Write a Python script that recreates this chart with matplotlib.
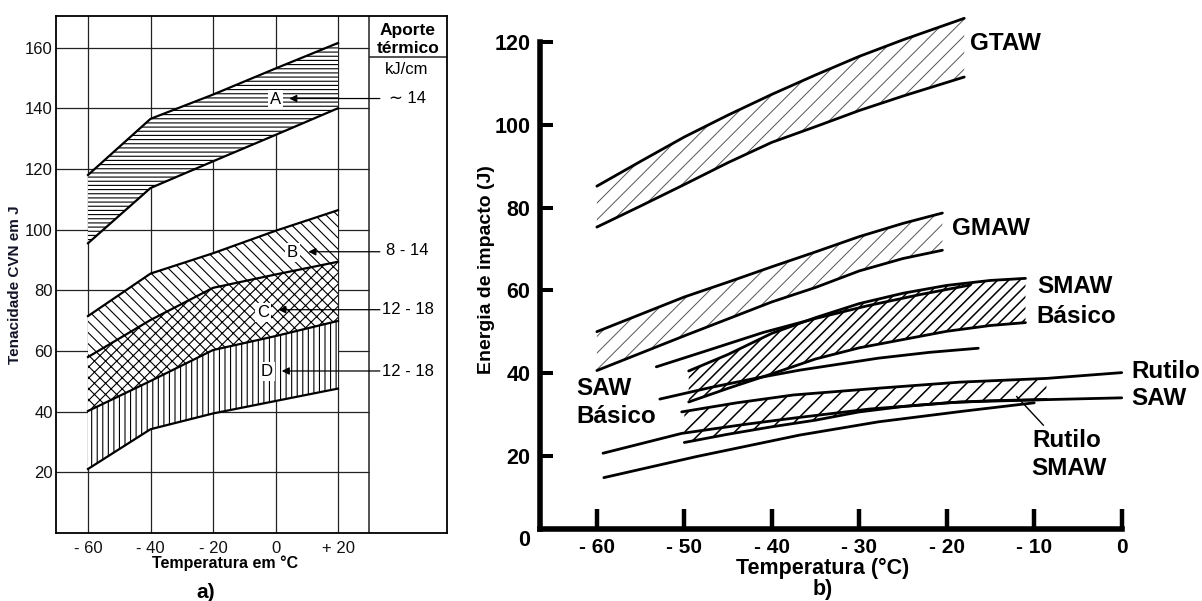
import matplotlib
matplotlib.use('Agg')
import matplotlib.pyplot as plt

plt.rcParams['font.family'] = ['Liberation Sans', 'DejaVu Sans']
plt.rcParams['hatch.linewidth'] = 0.8

# ---------------- data: panel a) ----------------
temp_a = [-60, -40, -20, 0, 20]
a_upper = [118.0, 136.5, 144.5, 153.1, 161.5]
a_lower = [95.5, 113.7, 122.5, 131.2, 140.0]
b_upper = [71.5, 85.5, 92.2, 99.6, 106.4]
c_upper = [58.0, 70.2, 80.8, 85.2, 89.4]
d_upper = [40.2, 50.1, 60.3, 64.9, 69.9]
d_lower = [21.1, 34.2, 39.4, 43.5, 47.6]
xticks_a = [-60, -40, -20, 0, 20]
xticklabels_a = ['- 60', '- 40', '- 20', '0', '+ 20']
yticks_a = [20, 40, 60, 80, 100, 120, 140, 160]
band_letters = ['A', 'B', 'C', 'D']
heat_inputs = ['\u223c 14', '8 - 14', '12 - 18', '12 - 18']

# ---------------- data: panel b) ----------------
t_gtaw = [-60, -55, -50, -45, -40, -35, -30, -25, -18]
gtaw_upper = [85.2, 91.2, 97.1, 102.4, 107.4, 112.1, 116.6, 120.6, 125.8]
gtaw_lower = [75.3, 80.4, 85.6, 90.9, 95.8, 99.6, 103.5, 107.0, 111.6]

t_gmaw = [-60, -55, -50, -45, -40, -35, -30, -25, -20.5]
gmaw_upper = [50.0, 54.2, 58.4, 62.0, 65.7, 69.3, 73.0, 76.2, 78.7]
gmaw_lower = [40.6, 44.8, 49.0, 53.1, 57.2, 60.7, 64.7, 67.7, 69.7]

t_smaw_b = [-49.5, -45, -40, -35, -30, -25, -20, -15, -11]
smaw_b_upper = [40.5, 44.5, 49.6, 53.4, 56.8, 59.3, 61.2, 62.4, 62.9]
smaw_b_lower = [33.0, 36.3, 39.8, 43.4, 46.1, 48.1, 50.1, 51.5, 52.2]

t_saw_b_up = [-53.2, -47, -41, -35, -29, -23, -17.3]
saw_b_upper = [41.5, 45.7, 49.8, 53.2, 56.3, 59.0, 61.3]
t_saw_b_lo = [-52.8, -47, -41.7, -36.8, -27.8, -22, -16.4]
saw_b_lower = [33.7, 36.5, 38.8, 40.7, 43.6, 45.0, 46.0]

t_rsaw_up = [-50.3, -44, -37.5, -28, -18.5, -8.6, 0]
rsaw_upper = [30.6, 32.8, 34.7, 36.3, 37.8, 38.7, 40.1]
t_rsaw_lo = [-59.3, -50.3, -43, -37.5, -28.8, -18.5, -8, 0]
rsaw_lower = [20.6, 25.4, 27.6, 29.1, 31.3, 33.0, 33.6, 34.0]
t_low = [-59.2, -48.6, -36.8, -27.8, -18, -10]
low_line = [14.7, 19.8, 25.0, 28.2, 30.8, 32.8]

t_rsmaw = [-50, -45, -40, -35, -30, -25, -20, -15, -8.6]
rsmaw_upper = [30.7, 32.5, 34.1, 35.1, 36.0, 36.8, 37.5, 38.0, 38.7]
rsmaw_lower = [23.2, 25.2, 27.0, 28.6, 30.6, 31.9, 32.8, 33.3, 33.6]

xticks_b = [-60, -50, -40, -30, -20, -10, 0]
xticklabels_b = ['- 60', '- 50', '- 40', '- 30', '- 20', '- 10', '0']
yticks_b = [0, 20, 40, 60, 80, 100, 120]


def set_hlw(coll, w):
    if hasattr(coll, 'set_hatch_linewidth'):
        coll.set_hatch_linewidth(w)


fig = plt.figure(figsize=(12.02, 6.01), dpi=100)

# =============== panel a) ===============
W, H = 1202.0, 601.0
axA = fig.add_axes([56 / W, 1 - 533 / H, (447 - 56) / W, 517 / H])
axA.set_xlim(-70.24, 54.88)
axA.set_ylim(0, 170.4)
for s in axA.spines.values():
    s.set_linewidth(1.3)
axA.set_xticks(xticks_a, xticklabels_a)
axA.set_yticks(yticks_a, [str(v) for v in yticks_a])
axA.tick_params(axis='both', length=0, labelsize=12, colors='#111111')
axA.tick_params(axis='y', pad=2.4)
axA.tick_params(axis='x', pad=5.5)

# grid
for xv in xticks_a:
    axA.axvline(xv, color='#222222', lw=0.9, zorder=1)
axA.hlines(yticks_a, -70.24, 30, color='#222222', lw=0.9, zorder=1)
axA.axvline(30, color='#222222', lw=1.1, zorder=1)
axA.hlines([156.9], 30, 54.88, color='#222222', lw=1.1, zorder=1)

fills = [
    (a_lower, a_upper, '----'),
    (c_upper, b_upper, '\\\\\\'),
    (d_upper, c_upper, 'xxx'),
    (d_lower, d_upper, '|||'),
]
for lo, up, h in fills:
    pc = axA.fill_between(temp_a, lo, up, facecolor='white', edgecolor='black',
                          hatch=h, lw=0, zorder=2)
    set_hlw(pc, 0.8)
for series in (a_upper, a_lower, b_upper, c_upper, d_upper, d_lower):
    axA.plot(temp_a, series, color='black', lw=1.6, zorder=3)

# header of the heat-input column
axA.text(42.1, 165.6, 'Aporte', ha='center', va='center', fontsize=12.5,
         fontweight='bold')
axA.text(42.4, 159.7, 't\u00e9rmico', ha='center', va='center', fontsize=12.5,
         fontweight='bold')
axA.text(42.1, 152.7, 'kJ/cm', ha='center', va='center', fontsize=12)

letter_xy = [(0.0, 143.0), (5.4, 92.6), (-3.9, 72.8), (-2.8, 53.3)]
arrow_tip = [(4.4, 143.2), (10.5, 92.7), (0.9, 73.6), (2.0, 53.4)]
value_y = [143.3, 93.1, 73.8, 53.3]
for i in range(4):
    lx, ly = letter_xy[i]
    axA.text(lx, ly, band_letters[i], ha='center', va='center', fontsize=12,
             zorder=6, bbox=dict(boxstyle='square,pad=0.12', fc='white', ec='none'))
    axA.annotate('', xy=arrow_tip[i], xytext=(33.4, arrow_tip[i][1]),
                 arrowprops=dict(arrowstyle='-|>', color='black', lw=0.9,
                                 mutation_scale=11, shrinkA=0, shrinkB=0),
                 zorder=6)
    axA.text(42.3, value_y[i], heat_inputs[i], ha='center', va='center',
             fontsize=12, zorder=6)

fig.text(15 / W, 1 - 285 / H, 'Tenacidade CVN em J', rotation=90, ha='center',
         va='center', fontsize=11, fontweight='bold', color='#141428')
fig.text(225 / W, 1 - 563 / H, 'Temperatura em \u00b0C', ha='center', va='center',
         fontsize=11.5, fontweight='bold')
fig.text(206 / W, 1 - 592 / H, 'a)', ha='center', va='center', fontsize=15,
         fontweight='bold')

# =============== panel b) ===============
axB = fig.add_axes([540 / W, 1 - 538.4 / H, 581.7 / W, 496.1 / H])
axB.set_xlim(-66.5, 0)
axB.set_ylim(0, 120)
axB.spines['top'].set_visible(False)
axB.spines['right'].set_visible(False)
axB.spines['left'].set_linewidth(4)
axB.spines['left'].set_bounds(2.2, 120)
axB.spines['bottom'].set_linewidth(4)
axB.spines['bottom'].set_position(('data', 2.2))
axB.spines['bottom'].set_bounds(-66.5, 0)
axB.set_xticks(xticks_b, xticklabels_b, fontsize=15, fontweight='bold')
axB.set_yticks(yticks_b, [str(v) for v in yticks_b], fontsize=15.5,
               fontweight='bold')
axB.tick_params(axis='y', direction='in', length=9.4, width=2.9, pad=7)
axB.tick_params(axis='x', direction='in', length=14.4, width=3.2, pad=6.5)
axB.yaxis.get_major_ticks()[0].tick1line.set_visible(False)

# hatched bands
pc = axB.fill_between(t_gtaw, gtaw_lower, gtaw_upper, facecolor='none',
                      edgecolor='#555555', hatch='//', lw=0, clip_on=False)
set_hlw(pc, 0.7)
pc = axB.fill_between(t_gmaw, gmaw_lower, gmaw_upper, facecolor='none',
                      edgecolor='#555555', hatch='//', lw=0, clip_on=False)
set_hlw(pc, 0.7)
pc = axB.fill_between(t_smaw_b, smaw_b_lower, smaw_b_upper, facecolor='none',
                      edgecolor='black', hatch='///', lw=0, clip_on=False)
set_hlw(pc, 1.1)
pc = axB.fill_between(t_rsmaw, rsmaw_lower, rsmaw_upper, facecolor='none',
                      edgecolor='black', hatch='//', lw=0, clip_on=False)
set_hlw(pc, 1.1)

lines_b = [
    (t_gtaw, gtaw_upper), (t_gtaw, gtaw_lower),
    (t_gmaw, gmaw_upper), (t_gmaw, gmaw_lower),
    (t_smaw_b, smaw_b_upper), (t_smaw_b, smaw_b_lower),
    (t_saw_b_up, saw_b_upper), (t_saw_b_lo, saw_b_lower),
    (t_rsaw_up, rsaw_upper), (t_rsaw_lo, rsaw_lower),
    (t_low, low_line), (t_rsmaw, rsmaw_lower),
]
for tx, ey in lines_b:
    axB.plot(tx, ey, color='black', lw=2.0, clip_on=False, solid_capstyle='round')

# leader for Rutilo SMAW
axB.plot([-12.0, -8.96], [34.3, 27.4], color='black', lw=1.0, clip_on=False)

lab_kw = dict(fontsize=17.5, fontweight='bold', ha='left', va='center')
axB.text(-17.3, 119.8, 'GTAW', **lab_kw)
axB.text(-19.4, 75.0, 'GMAW', **lab_kw)
axB.text(-9.7, 60.9, 'SMAW', **lab_kw)
axB.text(-9.7, 53.6, 'B\u00e1sico', **lab_kw)
axB.text(1.14, 40.3, 'Rutilo', **lab_kw)
axB.text(1.14, 33.9, 'SAW', **lab_kw)
axB.text(-10.2, 23.8, 'Rutilo', **lab_kw)
axB.text(-10.3, 17.0, 'SMAW', **lab_kw)
axB.text(-62.3, 36.3, 'SAW', **lab_kw)
axB.text(-62.3, 29.4, 'B\u00e1sico', **lab_kw)

fig.text(487 / W, 1 - 270 / H, 'Energia de impacto (J)', rotation=90,
         ha='center', va='center', fontsize=14, fontweight='bold')
fig.text(822.5 / W, 1 - 568 / H, 'Temperatura (\u00b0C)', ha='center',
         va='center', fontsize=15.5, fontweight='bold')
fig.text(823 / W, 1 - 590 / H, 'b)', ha='center', va='center', fontsize=15.5,
         fontweight='bold')

fig.savefig('out.png', dpi=100)
